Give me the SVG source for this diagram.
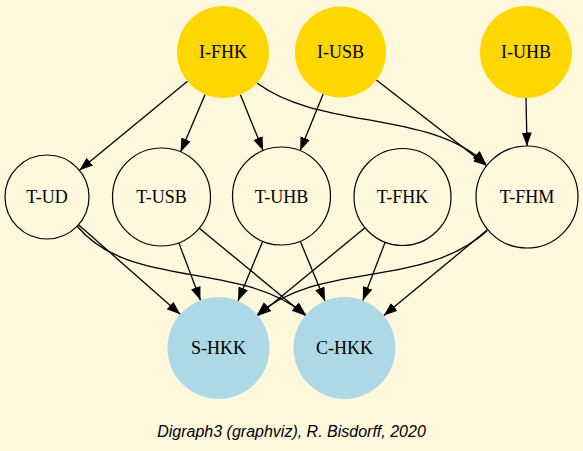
<svg xmlns="http://www.w3.org/2000/svg" width="583" height="451" viewBox="0 0 583 451">
<style>
.bg{fill:#fff8dc}
.ini{fill:#ffd700;stroke:none}
.mid{fill:#fff8dc;stroke:#000;stroke-width:1.2}
.out{fill:#add8e6;stroke:none}
.e{fill:none;stroke:#000;stroke-width:1.3;marker-end:url(#ah)}
</style>
<defs>
<marker id="ah" markerUnits="userSpaceOnUse" markerWidth="15" markerHeight="11" refX="13.5" refY="5" orient="auto">
<path d="M0,0 L13.5,5 L0,10 z" fill="#000"/>
</marker>
</defs>
<rect class="bg" x="0" y="0" width="583" height="451"/>
<g id="connectors">
<line class="e" x1="187.5" y1="81.3" x2="79.4" y2="170.3"/>
<line class="e" x1="205.1" y1="94.4" x2="180.6" y2="151.9"/>
<line class="e" x1="240.3" y1="94.6" x2="263.1" y2="150.6"/>
<path class="e" d="M257,83 C320,130 430,110 486,164"/>
<line class="e" x1="323.2" y1="94.1" x2="300.1" y2="150.7"/>
<line class="e" x1="376.4" y1="79.9" x2="486.7" y2="165.7"/>
<line class="e" x1="526" y1="98" x2="527" y2="146"/>
<line class="e" x1="78.5" y1="224.8" x2="180.2" y2="314.3"/>
<path class="e" d="M77,226 C130,290 240,260 306,315"/>
<line class="e" x1="178.8" y1="242.8" x2="200.5" y2="300.3"/>
<line class="e" x1="199.3" y1="228.2" x2="305.2" y2="315.5"/>
<line class="e" x1="262.7" y1="241.3" x2="238" y2="300.9"/>
<line class="e" x1="300.3" y1="241.3" x2="325" y2="300.9"/>
<line class="e" x1="365" y1="227.8" x2="257.9" y2="315.7"/>
<line class="e" x1="385.1" y1="242.3" x2="362.8" y2="300.4"/>
<path class="e" d="M487,231 C420,290 320,260 257,315"/>
<line class="e" x1="487.7" y1="229.5" x2="383.8" y2="315.5"/>
</g>
<g font-family="'Liberation Serif', 'DejaVu Serif', serif" font-size="18" text-anchor="middle" fill="#000">
<g id="I-FHK"><circle class="ini" cx="223" cy="52" r="46"/><text x="223" y="58">I-FHK</text></g>
<g id="I-USB"><circle class="ini" cx="340.5" cy="52" r="45.5"/><text x="340.5" y="58">I-USB</text></g>
<g id="I-UHB"><circle class="ini" cx="526" cy="52" r="46"/><text x="526" y="58">I-UHB</text></g>
<g id="T-UD"><circle class="mid" cx="47" cy="197" r="42"/><text x="47" y="203">T-UD</text></g>
<g id="T-USB"><circle class="mid" cx="161.5" cy="197" r="49"/><text x="161.5" y="203">T-USB</text></g>
<g id="T-UHB"><circle class="mid" cx="281.5" cy="196" r="49"/><text x="281.5" y="203">T-UHB</text></g>
<g id="T-FHK"><circle class="mid" cx="402.5" cy="197" r="48.5"/><text x="402.5" y="203">T-FHK</text></g>
<g id="T-FHM"><circle class="mid" cx="527" cy="197" r="51"/><text x="527" y="203">T-FHM</text></g>
<g id="S-HKK"><circle class="out" cx="218.5" cy="348" r="51"/><text x="218.5" y="354">S-HKK</text></g>
<g id="C-HKK"><circle class="out" cx="344.5" cy="348" r="51"/><text x="344.5" y="354">C-HKK</text></g>
</g>
<text x="291.5" y="437" font-family="'Liberation Sans', Arial, sans-serif" font-size="16" font-style="italic" text-anchor="middle" fill="#000">Digraph3 (graphviz), R. Bisdorff, 2020</text>
</svg>
